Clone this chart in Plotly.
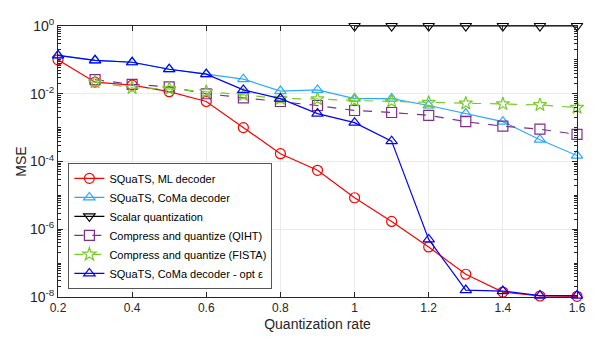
import plotly.graph_objects as go

rate = [0.2, 0.3, 0.4, 0.5, 0.6, 0.7, 0.8, 0.9, 1.0, 1.1, 1.2, 1.3, 1.4, 1.5, 1.6]

mse_ml = [0.1, 0.022, 0.018, 0.0115, 0.0059, 1.0e-3, 1.7e-4, 5.5e-5, 8.5e-6,
          1.7e-6, 3.0e-7, 4.7e-8, 1.4e-8, 1.07e-8, 1.05e-8]
mse_coma = [0.135, 0.097, 0.085, 0.053, 0.038, 0.027, 0.012, 0.013, 0.0072,
            0.0072, 0.0045, 0.0026, 0.0015, 4.4e-4, 1.5e-4]
rate_scalar = [1.0, 1.1, 1.2, 1.3, 1.4, 1.5, 1.6]
mse_scalar = [1, 1, 1, 1, 1, 1, 1]
rate_cq = [0.3, 0.4, 0.5, 0.6, 0.7, 0.8, 0.9, 1.0, 1.1, 1.2, 1.3, 1.4, 1.5, 1.6]
mse_qiht = [0.026, 0.019, 0.016, 0.010, 0.0076, 0.0059, 0.0045, 0.0032, 0.0028,
            0.0023, 0.0015, 0.0011, 9.0e-4, 6.3e-4]
mse_fista = [0.022, 0.015, 0.014, 0.0115, 0.0093, 0.0072, 0.0070, 0.0063, 0.0060,
             0.0055, 0.0052, 0.0050, 0.0047, 0.0039]
mse_opt = [0.135, 0.097, 0.085, 0.053, 0.038, 0.013, 0.0072, 0.0026, 0.0014,
           4.0e-4, 5.0e-7, 1.6e-8, 1.5e-8, 1.1e-8, 1.1e-8]

series = [
    ("SQuaTS, ML decoder", rate, mse_ml, "#ff0000", "circle-open", "solid"),
    ("SQuaTS, CoMa decoder", rate, mse_coma, "#2ea8ff", "triangle-up-open", "solid"),
    ("Scalar quantization", rate_scalar, mse_scalar, "#000000", "triangle-down-open", "solid"),
    ("Compress and quantize (QIHT)", rate_cq, mse_qiht, "#7e2f8e", "square-open", "dash"),
    ("Compress and quantize (FISTA)", rate_cq, mse_fista, "#77cc2a", "star-open", "dash"),
    ("SQuaTS, CoMa decoder - opt ε", rate, mse_opt, "#0000ff", "triangle-up-open", "solid"),
]

fig = go.Figure()
for name, x, y, color, sym, dash in series:
    fig.add_trace(go.Scatter(
        x=x, y=y, mode="lines+markers", name=name,
        line=dict(color=color, width=1.2, dash=dash),
        marker=dict(symbol=sym, size=10, color=color, line=dict(width=1.2, color=color)),
        cliponaxis=False,
    ))

font = "Liberation Sans, Arial, sans-serif"
fig.update_layout(
    width=598, height=341,
    paper_bgcolor="white", plot_bgcolor="white",
    margin=dict(l=58, r=15, t=26, b=39),
    font=dict(family=font, size=12, color="#262626"),
    showlegend=True,
    legend=dict(
        x=0.02, y=0.03, xanchor="left", yanchor="bottom",
        bgcolor="white", bordercolor="#555555", borderwidth=1,
        font=dict(size=11, color="#000000"),
        tracegroupgap=0, itemwidth=30,
    ),
    xaxis=dict(
        title=dict(text="Quantization rate", standoff=4),
        range=[0.2, 1.6], tickvals=[0.2, 0.4, 0.6, 0.8, 1.0, 1.2, 1.4, 1.6],
        ticktext=["0.2", "0.4", "0.6", "0.8", "1", "1.2", "1.4", "1.6"],
        showgrid=True, gridcolor="#ebebeb", zeroline=False,
        showline=True, linecolor="#262626", mirror="ticks",
        ticks="inside", ticklen=5, tickcolor="#262626",
    ),
    yaxis=dict(
        title=dict(text="MSE", standoff=0),
        type="log", range=[-8, 0],
        tickvals=[1, 1e-2, 1e-4, 1e-6, 1e-8],
        ticktext=["10<sup>0</sup>", "10<sup>-2</sup>", "10<sup>-4</sup>",
                  "10<sup>-6</sup>", "10<sup>-8</sup>"],
        tickfont=dict(size=14),
        showgrid=True, gridcolor="#ebebeb", zeroline=False,
        showline=True, linecolor="#262626", mirror="ticks",
        ticks="inside", ticklen=5, tickcolor="#262626",
        minor=dict(dtick="D1", ticks="inside", ticklen=3, tickcolor="#262626", showgrid=False),
    ),
)

fig.write_html("out.html", config={"displayModeBar": False},
               post_script="document.body.style.margin='0';")
